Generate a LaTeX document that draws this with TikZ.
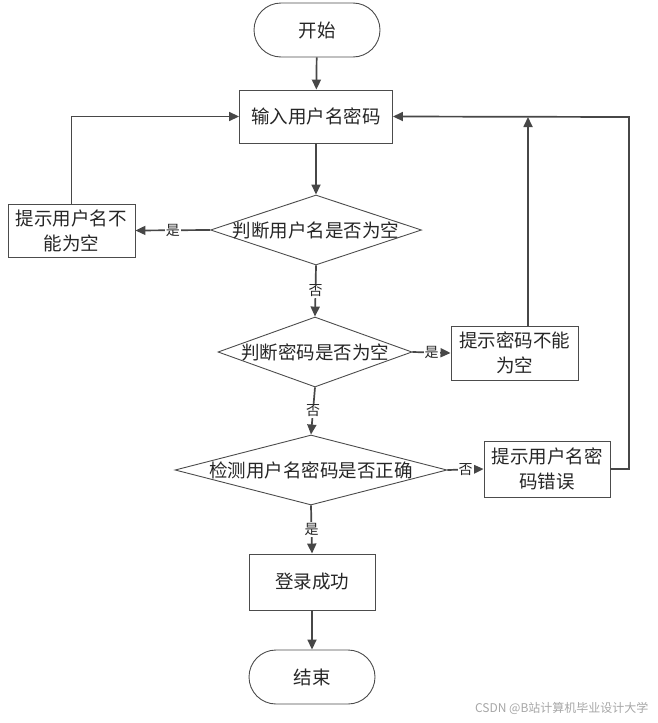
\documentclass[tikz,border=0pt]{standalone}
\usepackage{fontspec}
\newfontfamily\cjk{Noto Sans CJK SC}
\usetikzlibrary{shapes.geometric,shapes.misc,arrows.meta}
\begin{document}
\begin{tikzpicture}[x=1pt,y=-1pt,
  every node/.style={font=\cjk\fontsize{18.5}{25}\selectfont, text=black!85},
  term/.style={rounded rectangle, draw=black!70, line width=0.9pt, minimum width=126pt, minimum height=54pt, inner sep=0pt},
  proc/.style={rectangle, draw=black!70, line width=0.9pt, inner sep=0pt, align=center},
  dec/.style={diamond, draw=black!70, line width=0.9pt, inner sep=0pt},
  arr/.style={draw=black!72, line width=1.7pt, -{Triangle[length=10pt,width=9pt]}},
  lbl/.style={font=\cjk\fontsize{14}{16}\selectfont, fill=white, inner sep=1pt}
]
\useasboundingbox (0,0) rectangle (658,723);
\node[term] (start) at (317,30) {开始};
\node[proc, minimum width=153pt, minimum height=53pt] (input) at (316,116.5) {输入用户名密码};
\node[dec, minimum width=211pt, minimum height=70pt, label={center:判断用户名是否为空}] (d1) at (316,230) {};
\node[proc, minimum width=127pt, minimum height=53pt] (b1) at (71.5,230.5) {提示用户名不\\能为空};
\node[dec, minimum width=194pt, minimum height=70pt, label={center:判断密码是否为空}] (d2) at (315,352) {};
\node[proc, minimum width=127pt, minimum height=54pt] (b2) at (514.5,353) {提示密码不能\\为空};
\node[dec, minimum width=272pt, minimum height=70pt, label={center:检测用户名密码是否正确}] (d3) at (311,470) {};
\node[proc, minimum width=126pt, minimum height=56pt] (b3) at (547,469) {提示用户名密\\码错误};
\node[proc, minimum width=126pt, minimum height=56pt] (ok) at (312,582) {登录成功};
\node[term] (end) at (312,677) {结束};
\coordinate (j) at (528,117);
\coordinate (r) at (629,117);
\draw[arr] (start) -- (input);
\draw[arr] (input) -- (d1);
\draw[arr] (d1.west) -- node[lbl]{是} (b1.east);
\draw[arr] (b1.north) |- (input.west);
\draw[arr] (d1.south) -- node[lbl]{否} (d2.north);
\draw[arr] (d2.east) -- node[lbl]{是} (b2.west);
\draw[arr] (b2.north -| j) -- (j);
\draw[arr] (d2.south) -- node[lbl]{否} (d3.north);
\draw[arr] (d3.east) -- node[lbl]{否} (b3.west);
\draw[arr] (b3.east) -| (r) -- (input.east);
\draw[arr] (d3.south) -- node[lbl]{是} (ok.north);
\draw[arr] (ok) -- (end);
\node[font=\cjk\fontsize{12}{14}\selectfont, text=black!35, anchor=east] (wm) at (652,708) {CSDN @B站计算机毕业设计大学};
\end{tikzpicture}
\end{document}
